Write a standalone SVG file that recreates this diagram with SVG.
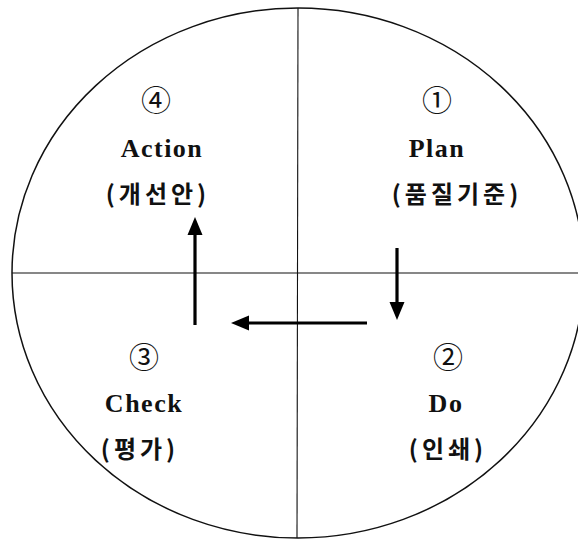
<svg xmlns="http://www.w3.org/2000/svg" width="578" height="540" viewBox="0 0 578 540">
<style>
.bg{fill:#fff}
.frame{fill:none;stroke:#111;stroke-width:1.5}
.axis{fill:none;stroke:#111;stroke-width:1.1}
.arr{fill:none;stroke:#000;stroke-width:3.2}
.num{font-family:"Noto Sans CJK KR","DejaVu Sans",sans-serif;font-size:30px;fill:#111;text-anchor:middle}
.en{font-family:"Liberation Serif","Times New Roman",serif;font-weight:bold;font-size:26px;letter-spacing:1.5px;fill:#111;text-anchor:middle}
.ko{font-family:"Noto Sans CJK KR",sans-serif;font-weight:bold;font-size:24px;letter-spacing:4px;fill:#111;text-anchor:middle}
</style>
<defs>
<marker id="head" markerUnits="userSpaceOnUse" markerWidth="19" markerHeight="16" refX="0" refY="7.5" orient="auto" overflow="visible">
<path d="M0,0 L18,7.5 L0,15 Z" fill="#000"/>
</marker>
</defs>
<rect class="bg" x="0" y="0" width="578" height="540"/>
<g id="frame">
<ellipse class="frame" cx="298" cy="273" rx="286" ry="265"/>
<line class="axis" x1="298" y1="8" x2="297" y2="538"/>
<line class="axis" x1="12" y1="273" x2="578" y2="273"/>
</g>
<g id="plan">
<text class="num" x="437" y="111">①</text>
<text class="en" x="437" y="157">Plan</text>
<text class="ko" x="457" y="203">(품질기준)</text>
</g>
<g id="do">
<text class="num" x="448" y="368">②</text>
<text class="en" x="446" y="412">Do</text>
<text class="ko" x="448" y="458">(인쇄)</text>
</g>
<g id="check">
<text class="num" x="144" y="368">③</text>
<text class="en" x="144" y="412">Check</text>
<text class="ko" x="140" y="458">(평가)</text>
</g>
<g id="action">
<text class="num" x="156" y="111">④</text>
<text class="en" x="162" y="157">Action</text>
<text class="ko" x="158" y="203">(개선안)</text>
</g>
<g id="connectors">
<line class="arr" x1="397" y1="248" x2="397" y2="302" marker-end="url(#head)"/>
<line class="arr" x1="367" y1="323" x2="249" y2="323" marker-end="url(#head)"/>
<line class="arr" x1="195" y1="325" x2="195" y2="235" marker-end="url(#head)"/>
</g>
</svg>
